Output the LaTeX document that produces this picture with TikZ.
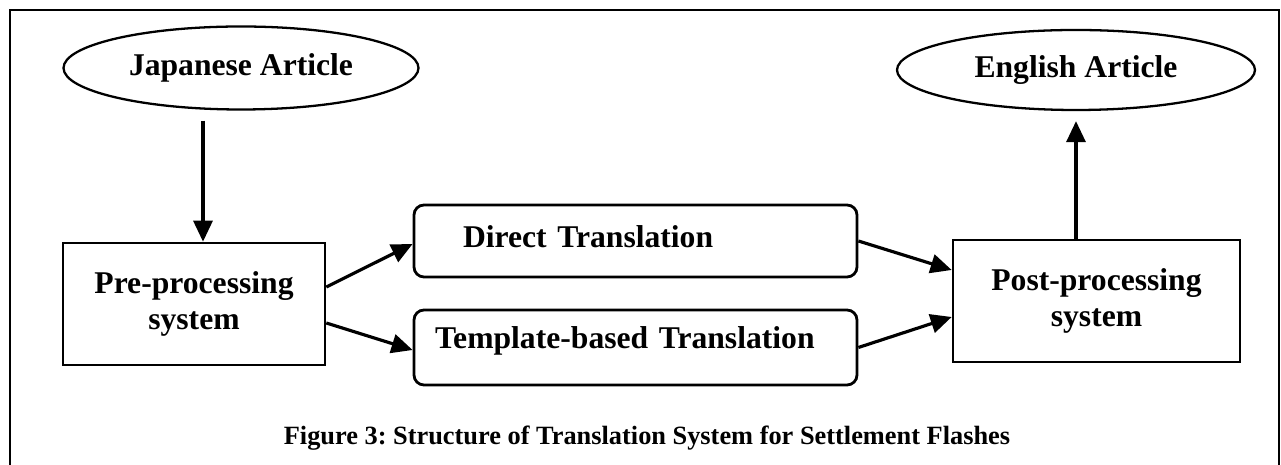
\documentclass[tikz,border=0pt]{standalone}
\usepackage{fontspec}
\setmainfont{Liberation Serif}
\usetikzlibrary{arrows.meta,shapes.geometric}
\frenchspacing

\begin{document}
\begin{tikzpicture}[every node/.style={font=\bfseries\fontsize{18}{20}\selectfont,text=black},oval/.style={ellipse,draw,line width=1.3pt,inner sep=0pt,minimum width=7.1cm,minimum height=1.66cm},sysbox/.style={draw,line width=1.5pt,align=center,inner sep=0pt,minimum height=2.44cm},transbox/.style={draw,line width=1.6pt,rounded corners=0.2cm,align=left,inner ysep=0pt},arrow/.style={-{Triangle[length=0.42cm,width=0.38cm]},line width=1.8pt}]
\useasboundingbox (0,0) rectangle (25.62,9.3);
\draw[line width=1.1pt] (0.2,-0.2)--(0.2,9.1)--(25.58,9.1)--(25.58,-0.2);

\node[oval] (jap) at (4.82,7.94) {Japanese Article}; \node[oval,minimum width=7.16cm,minimum height=1.6cm] (eng) at (21.52,7.9) {English Article};
\node[sysbox,minimum width=5.24cm] (pre) at (3.88,3.22) {Pre-processing\\system}; \node[sysbox,minimum width=5.74cm] (post) at (21.93,3.28) {Post-processing\\system};
\node[transbox,inner xsep=0.98cm,text width=6.9cm,text height=0.85cm,text depth=0.59cm] (direct) at (12.71,4.48) {Direct Translation};
\node[transbox,inner xsep=0.42cm,text width=8.02cm,text height=0.77cm,text depth=0.73cm] (templ) at (12.71,2.35) {Template-based Translation};

\draw[arrow] ([xshift=0.18cm,yshift=-0.2cm]pre.north |- jap.south)--([xshift=0.18cm]pre.north); \draw[arrow] (eng.south |- post.north)--([yshift=-0.2cm]eng.south);
\draw[arrow] ([yshift=0.34cm]pre.east)--([yshift=-0.06cm]direct.west); \draw[arrow] ([yshift=-0.38cm]pre.east)--([yshift=-0.05cm]templ.west);
\draw[arrow] (direct.east)--([yshift=0.62cm]post.west); \draw[arrow] (templ.east)--([yshift=-0.32cm]post.west);

\node[font=\bfseries\fontsize{15}{18}\selectfont] (caption) at (12.94,0.54) {Figure 3: Structure of Translation System for Settlement Flashes};

\end{tikzpicture}
\end{document}
